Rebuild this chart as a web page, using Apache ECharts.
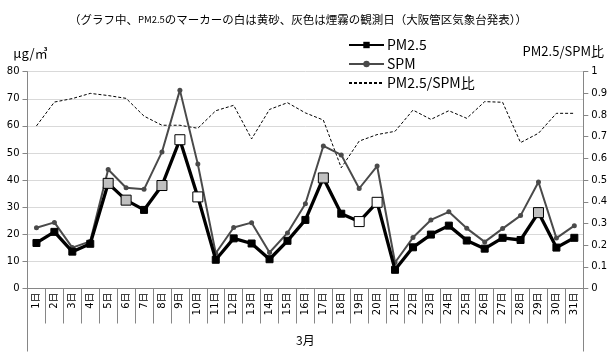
<!DOCTYPE html>
<html><head><meta charset="utf-8">
<script src="https://cdn.jsdelivr.net/npm/echarts@6/dist/echarts.min.js"></script>
<style>html,body{margin:0;padding:0;background:#fff}#c{width:616px;height:358px}</style>
</head><body><div id="c"></div>
<script>
var days = ['1日','2日','3日','4日','5日','6日','7日','8日','9日','10日','11日','12日','13日','14日','15日','16日','17日','18日','19日','20日','21日','22日','23日','24日','25日','26日','27日','28日','29日','30日','31日'];
var pm25 = [16.8,20.9,13.6,16.5,38.8,32.6,29.0,38.0,54.9,33.8,10.6,18.5,16.6,10.8,17.6,25.3,40.8,27.6,24.7,31.8,6.9,15.2,19.9,23.2,17.7,14.7,18.7,17.9,28.0,15.1,18.7];
var spm = [22.4,24.4,15.1,17.4,43.9,37.2,36.6,50.4,73.2,45.9,13.0,22.5,24.3,13.3,20.5,31.3,52.6,49.3,36.9,45.2,9.6,18.8,25.3,28.3,22.2,17.2,22.1,26.9,39.3,18.6,23.2];
var ratio = [0.75,0.86,0.876,0.90,0.89,0.877,0.795,0.753,0.753,0.739,0.82,0.845,0.69,0.826,0.857,0.81,0.777,0.557,0.68,0.71,0.725,0.823,0.78,0.82,0.785,0.862,0.859,0.673,0.716,0.808,0.808];
var kosaDays = ['9日','10日','19日','20日'];
var hazeDays = ['5日','6日','8日','17日','29日'];
var monthLabel = ['3月'];
var leftTicks = {min:0, max:80, interval:10};
var rightTicks = {min:0, max:1, interval:0.1};

var pmData = pm25.map(function(v,i){
  var d = days[i];
  if (kosaDays.indexOf(d) >= 0) return {value:v, symbolSize:10, itemStyle:{color:'#ffffff', borderColor:'#000', borderWidth:1}};
  if (hazeDays.indexOf(d) >= 0) return {value:v, symbolSize:10, itemStyle:{color:'#c0c0c0', borderColor:'#000', borderWidth:1}};
  return v;
});

var chart = echarts.init(document.getElementById('c'), null, {renderer:'canvas'});
var cjk = "'Noto Sans CJK JP', 'Noto Sans', sans-serif";
var axisFont = "'DejaVu Sans', 'Noto Sans CJK JP', sans-serif";
chart.setOption({
  animation:false,
  title:{
    text:'{a|（グラフ中、}{b|PM2.5}{a|のマーカーの白は黄砂、灰色は煙霧の観測日（大阪管区気象台発表））}',
    left:293, top:9, textAlign:'center',
    textStyle:{fontWeight:'normal', rich:{a:{fontSize:11.5, fontFamily:cjk, color:'#000', fontWeight:'normal'}, b:{fontSize:9.5, fontFamily:cjk, color:'#000', fontWeight:'normal'}}}
  },
  legend:{
    orient:'vertical', left:343, top:33, itemWidth:35, itemHeight:8, itemGap:5,
    textStyle:{fontSize:14, fontFamily:cjk, color:'#000', padding:[0,0,0,-2]},
    data:['PM2.5','SPM',{name:'PM2.5/SPM比', itemStyle:{opacity:0}}]
  },
  grid:{left:27.5, right:32.7, top:71.7, bottom:69.5, containLabel:false},
  xAxis:[{
    type:'category', data:days, boundaryGap:true,
    axisLine:{lineStyle:{color:'#868686', width:1}},
    axisTick:{show:true, interval:0, length:35, lineStyle:{color:'#868686'}},
    axisLabel:{interval:0, rotate:90, margin:4, fontSize:10, fontFamily:axisFont, color:'#000'}
  },{
    type:'category', data:monthLabel, position:'bottom', boundaryGap:true,
    axisLine:{show:false},
    axisTick:{show:true, length:63, lineStyle:{color:'#868686'}},
    axisLabel:{margin:46, fontSize:12, fontFamily:cjk, color:'#000'}
  }],
  yAxis:[{
    type:'value', min:leftTicks.min, max:leftTicks.max, interval:leftTicks.interval,
    name:'μg/㎥', nameLocation:'end', nameGap:12,
    nameTextStyle:{fontSize:13, fontFamily:cjk, color:'#000', padding:[0,0,0,6]},
    axisLine:{show:true, lineStyle:{color:'#868686'}},
    axisTick:{show:true, length:5, lineStyle:{color:'#868686'}},
    axisLabel:{fontSize:10, fontFamily:axisFont, color:'#000', margin:8},
    splitLine:{lineStyle:{color:'#d9d9d9', width:1}}
  },{
    type:'value', min:rightTicks.min, max:rightTicks.max, interval:rightTicks.interval, position:'right',
    name:'PM2.5/SPM比', nameLocation:'end', nameGap:14,
    nameTextStyle:{fontSize:13, fontFamily:cjk, color:'#000', align:'center', padding:[0,40,0,0]},
    axisLine:{show:true, lineStyle:{color:'#868686'}},
    axisTick:{show:true, length:5, lineStyle:{color:'#868686'}},
    axisLabel:{fontSize:10, fontFamily:axisFont, color:'#000', margin:8, formatter:function(v){return (+v.toFixed(1))+'';}},
    splitLine:{show:false}
  }],
  series:[{
    name:'PM2.5', type:'line', data:pmData, yAxisIndex:0, xAxisIndex:0, z:5,
    symbol:'rect', symbolSize:7, showAllSymbol:true,
    lineStyle:{color:'#000', width:3.3},
    itemStyle:{color:'#000', borderColor:'#000'}
  },{
    name:'SPM', type:'line', data:spm, yAxisIndex:0, xAxisIndex:0, z:4,
    symbol:'circle', symbolSize:5, showAllSymbol:true,
    lineStyle:{color:'#4a4a4a', width:2},
    itemStyle:{color:'#4a4a4a'}
  },{
    name:'PM2.5/SPM比', type:'line', data:ratio, yAxisIndex:1, xAxisIndex:0, z:3,
    symbol:'none', showSymbol:false,
    lineStyle:{color:'#000', width:1, type:[3,2]},
    itemStyle:{color:'#000'}
  }]
});
</script></body></html>
